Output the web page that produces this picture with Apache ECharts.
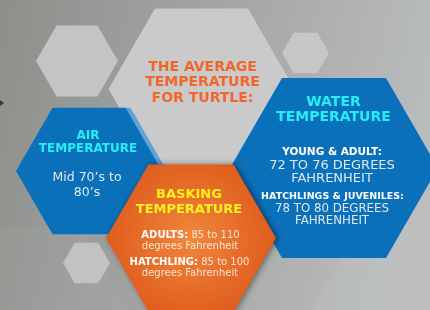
<!DOCTYPE html>
<html>
<head>
<meta charset="utf-8">
<script src="https://cdn.jsdelivr.net/npm/echarts@6/dist/echarts.min.js"></script>
<style>html,body{margin:0;padding:0;background:#a0a29f}#c{width:430px;height:310px}</style>
</head>
<body>
<div id="c"></div>
<script>
// Text content
const titleLines = ['THE AVERAGE', 'TEMPERATURE', 'FOR TURTLE:'];
const airTitle = ['AIR', 'TEMPERATURE'];
const airBody = ['Mid 70\u2019s to', '80\u2019s'];
const baskTitle = ['BASKING', 'TEMPERATURE'];
const baskLabels = ['ADULTS:', 'HATCHLING:'];
const baskValues = [' 85 to 110', ' 85 to 100'];
const baskUnit = 'degrees Fahrenheit';
const waterTitle = ['WATER', 'TEMPERATURE'];
const waterLabels = ['YOUNG & ADULT:', 'HATCHLINGS & JUVENILES:'];
const waterValues = [['72 TO 76 DEGREES', 'FAHRENHEIT'], ['78 TO 80 DEGREES', 'FAHRENHEIT']];

const BOLD = 'DejaVu Sans';
const chart = echarts.init(document.getElementById('c'), null, {renderer: 'canvas'});

function hex(cx, cy, r) {
  const pts = [];
  for (let i = 0; i < 6; i++) {
    const a = Math.PI / 3 * i;
    pts.push([cx + r * Math.cos(a), cy + r * Math.sin(a)]);
  }
  return pts;
}
function poly(cx, cy, r, style, z) {
  return {type: 'polygon', shape: {points: hex(cx, cy, r)}, style: style, z: z || 1};
}
function txt(x, y, s, size, color, weight, z) {
  return {type: 'text', x: x, y: y, z: z || 10, style: {text: s, fontFamily: BOLD, fontSize: size, fontWeight: weight || 'normal', fill: color, align: 'center', verticalAlign: 'middle'}};
}
function rich(x, y, label, value, size, z) {
  return {type: 'text', x: x, y: y, z: z || 10, style: {
    text: '{b|' + label + '}{n|' + value + '}', align: 'center', verticalAlign: 'middle',
    rich: {
      b: {fontFamily: BOLD, fontSize: size, fontWeight: 'bold', fill: '#ffffff'},
      n: {fontFamily: BOLD, fontSize: size, fill: '#fbe4d6'}
    }}};
}

const g = [];
// background
g.push({type: 'rect', shape: {x: 0, y: 0, width: 430, height: 310}, z: 0,
  style: {fill: new echarts.graphic.LinearGradient(0, 0, 1, 0.3, [
    {offset: 0, color: '#8d8f8b'}, {offset: 0.5, color: '#a4a6a4'}, {offset: 1, color: '#b9bcbc'}])}});
// faint large background hexagons
g.push(poly(470, 330, 170, {fill: 'rgba(255,255,255,0.06)'}, 0));
g.push(poly(20, 330, 120, {fill: 'rgba(255,255,255,0.03)'}, 0));
// small arrow at left
g.push({type: 'polygon', shape: {points: [[0, 100], [4, 103], [0, 106]]}, style: {fill: '#3a3a3a'}, z: 1});
// small light hexagons
g.push(poly(77, 61, 41, {fill: '#c3c4c3'}, 1));
g.push(poly(305.5, 53, 23.5, {fill: '#c5c7c7'}, 1));
g.push(poly(86.5, 263, 23.5, {fill: '#c1c3c2'}, 1));
// big light hexagon
g.push(poly(201.5, 89, 93, {fill: '#c9cac9'}, 2));
// air hex halo + air hex
g.push(poly(94, 171, 73, {fill: '#5ea2d6'}, 3));
g.push(poly(89, 171, 73, {fill: '#0b70ba'}, 4));
// water hex
g.push(poly(334, 168, 104, {fill: '#0b70ba'}, 4));
// orange hex
g.push(poly(191, 238, 85, {
  fill: new echarts.graphic.RadialGradient(0.5, 0.5, 0.6, [
    {offset: 0, color: '#f0873c'}, {offset: 1, color: '#df5a1b'}]),
  shadowBlur: 6, shadowColor: 'rgba(0,0,0,0.45)', shadowOffsetX: 2, shadowOffsetY: 0}, 5));

// title
const titleY = [67, 82.5, 98];
titleLines.forEach((s, i) => g.push(txt(202.5, titleY[i], s, 14, '#f2662a', 'bold')));
// air
g.push(txt(88, 136, airTitle[0], 12, '#25eef6', 'bold'));
g.push(txt(88, 148.5, airTitle[1], 12, '#25eef6', 'bold'));
g.push(txt(87, 178, airBody[0], 12.5, '#dfe8f1'));
g.push(txt(87, 193, airBody[1], 12.5, '#dfe8f1'));
// basking
g.push(txt(189, 195, baskTitle[0], 13, '#fff21c', 'bold'));
g.push(txt(189, 209.5, baskTitle[1], 13, '#fff21c', 'bold'));
g.push(rich(190.5, 235, baskLabels[0], baskValues[0], 10));
g.push(txt(190, 246.5, baskUnit, 10, '#fbe4d6'));
g.push(rich(189.5, 262, baskLabels[1], baskValues[1], 10));
g.push(txt(190, 273.5, baskUnit, 10, '#fbe4d6'));
// water
g.push(txt(333.5, 102.7, waterTitle[0], 14, '#25eef6', 'bold'));
g.push(txt(333.5, 117.8, waterTitle[1], 14, '#25eef6', 'bold'));
g.push(txt(332, 152, waterLabels[0], 10.5, '#ffffff', 'bold'));
g.push(txt(332, 166, waterValues[0][0], 13, '#dfe8f1'));
g.push(txt(332, 179, waterValues[0][1], 13, '#dfe8f1'));
g.push(txt(332.5, 196.5, waterLabels[1], 9.5, '#ffffff', 'bold'));
g.push(txt(332, 209, waterValues[1][0], 11.8, '#dfe8f1'));
g.push(txt(332, 221, waterValues[1][1], 11.8, '#dfe8f1'));

chart.setOption({animation: false, graphic: {elements: g}});
</script>
</body>
</html>
